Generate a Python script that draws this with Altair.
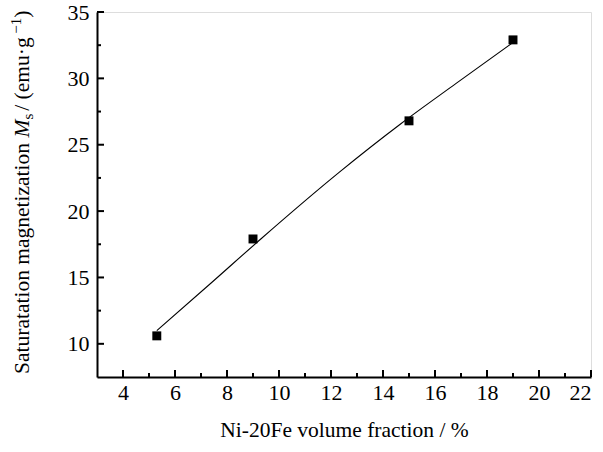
import altair as alt
import pandas as pd

# Measured data points
x_pts = [5.3, 9.0, 15.0, 19.0]
y_pts = [10.6, 17.9, 26.8, 32.9]

# Fitted curve
curve_x = [5.3, 7.4, 9.3, 12.3, 14.7, 16.8, 19.0]
curve_y = [11.0, 14.6, 17.9, 22.9, 26.6, 29.6, 32.7]

# Axis ticks
x_major = [4, 6, 8, 10, 12, 14, 16, 18, 20, 22]
x_minor = [5, 7, 9, 11, 13, 15, 17, 19, 21]
y_major = [10, 15, 20, 25, 30, 35]
y_minor = [12.5, 17.5, 22.5, 27.5, 32.5]

X_DOM = [3, 22]
Y_DOM = [7.5, 35]
W, H = 494, 365
FONT = "Liberation Serif"

xs = alt.Scale(domain=X_DOM, nice=False, zero=False)
ys = alt.Scale(domain=Y_DOM, nice=False, zero=False)

pts = pd.DataFrame({"x": x_pts, "y": y_pts})
curve = pd.DataFrame({"x": curve_x, "y": curve_y})

xaxis = alt.Axis(values=x_major, ticks=False, tickSize=0, domain=True, domainColor="black",
                 domainWidth=2, grid=False,
                 labelFont=FONT, labelFontSize=22, labelColor="black", labelPadding=5,
                 title="Ni-20Fe volume fraction / %", titleFont=FONT, titleFontSize=21.5,
                 titleFontWeight="normal", titleColor="black", titlePadding=16)
yaxis = alt.Axis(values=y_major, ticks=False, tickSize=0, domain=True, domainColor="black",
                 domainWidth=2, grid=False,
                 labelFont=FONT, labelFontSize=22, labelColor="black", labelPadding=8,
                 title=None)

line = alt.Chart(curve).mark_line(color="black", strokeWidth=1.1, interpolate="monotone").encode(
    x=alt.X("x:Q", scale=xs, axis=xaxis),
    y=alt.Y("y:Q", scale=ys, axis=yaxis),
)
points = alt.Chart(pts).mark_square(color="black", size=80, opacity=1).encode(
    x=alt.X("x:Q", scale=xs),
    y=alt.Y("y:Q", scale=ys),
)

# inward ticks
xmaj = alt.Chart(pd.DataFrame({"v": x_major})).mark_rule(color="black", strokeWidth=2).encode(
    x=alt.X("v:Q", scale=xs), y=alt.value(H), y2=alt.value(H - 7))
xmin = alt.Chart(pd.DataFrame({"v": x_minor})).mark_rule(color="black", strokeWidth=2).encode(
    x=alt.X("v:Q", scale=xs), y=alt.value(H), y2=alt.value(H - 4))
ymaj = alt.Chart(pd.DataFrame({"v": y_major})).mark_rule(color="black", strokeWidth=2).encode(
    y=alt.Y("v:Q", scale=ys), x=alt.value(0), x2=alt.value(7))
ymin = alt.Chart(pd.DataFrame({"v": y_minor})).mark_rule(color="black", strokeWidth=2).encode(
    y=alt.Y("v:Q", scale=ys), x=alt.value(0), x2=alt.value(4))

# y title pieces (rotated, reading upward)
TX = -68
fs = 21.5
sub = 15
def piece(text, y, dx=0, size=fs, style="normal"):
    return alt.Chart(pd.DataFrame({"t": [text]})).mark_text(
        angle=270, align="left", baseline="alphabetic", font=FONT, fontSize=size,
        fontStyle=style, color="black").encode(
        x=alt.value(TX + dx), y=alt.value(y), text="t:N")

em = fs
y0 = 362
w_a = 10.749 * em + 0.25 * em
y_m = y0 - w_a
y_s = y_m - 0.833 * em
y_d = y_s - 0.389 * sub - 3
w_d = (0.25 + 0.278 + 0.25 + 0.333 + 0.444 + 0.778 + 0.5 + 0.25 + 0.5) * em
y_e = y_d - w_d
y_f = y_e - (0.564 + 0.5) * sub

title = (piece("Saturatation magnetization", y0)
         + piece("M", y_m, style="italic")
         + piece("s", y_s, dx=4, size=sub)
         + piece(" / (emu\u00b7g", y_d)
         + piece("\u22121", y_e, dx=-8, size=sub)
         + piece(")", y_f))

chart = alt.layer(line, points, xmaj, xmin, ymaj, ymin, title).properties(
    width=W, height=H,
    padding={"left": 97, "top": 12, "right": 12, "bottom": 75},
    autosize=alt.AutoSizeParams(type="none"),
).configure_view(stroke="black", strokeWidth=2).configure_axis(
    labelFont=FONT, titleFont=FONT, labelColor="black", titleColor="black"
).configure_text(font=FONT).configure(background="white")

chart.save("out.html", embed_options={"renderer": "svg", "actions": False})
